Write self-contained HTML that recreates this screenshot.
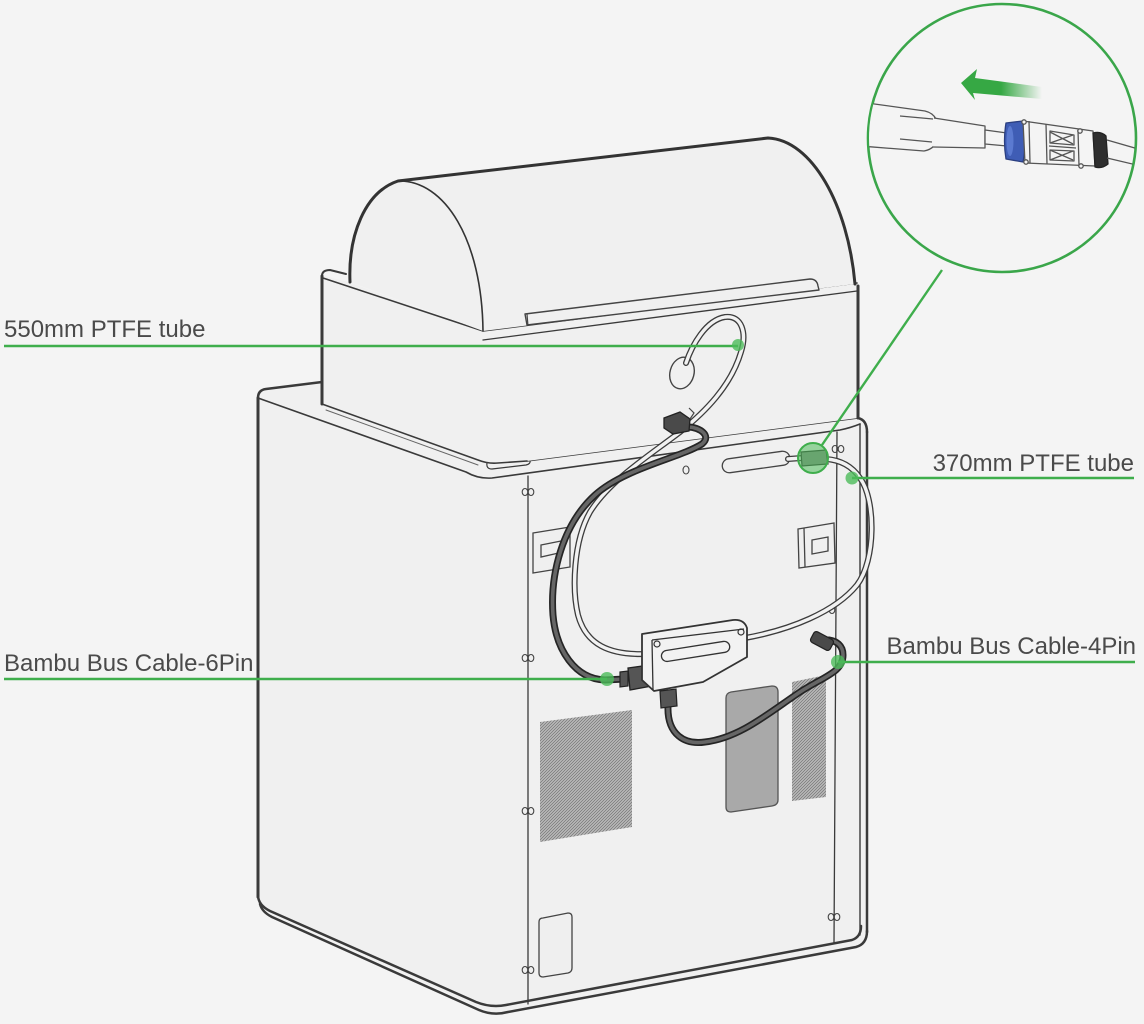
<!DOCTYPE html>
<html><head><meta charset="utf-8"><style>
html,body{margin:0;padding:0;background:#f4f4f4;}
svg{display:block;}
text{font-family:"Liberation Sans",Arial,sans-serif;font-size:24px;fill:#4a4a4a;}
</style></head><body>
<svg width="1144" height="1024" viewBox="0 0 1144 1024" xmlns="http://www.w3.org/2000/svg">
<defs>
<pattern id="mesh" width="3" height="3" patternUnits="userSpaceOnUse">
<rect width="3" height="3" fill="#c4c4c4"/>
<path d="M-1,1 L1,-1 M0,3 L3,0 M2,4 L4,2" stroke="#808080" stroke-width="1"/>
</pattern>
<linearGradient id="arr" x1="960" y1="0" x2="1042" y2="0" gradientUnits="userSpaceOnUse">
<stop offset="0" stop-color="#36a844" stop-opacity="1"/>
<stop offset="0.5" stop-color="#36a844" stop-opacity="1"/>
<stop offset="1" stop-color="#36a844" stop-opacity="0"/>
</linearGradient>
<clipPath id="mag"><circle cx="1002" cy="138" r="133"/></clipPath>
</defs>
<rect width="1144" height="1024" fill="#f4f4f4"/>

<!-- ===== BASE ===== -->
<path d="M258,398 Q258,390 266,389 L322,381 L858,380 L858,418 Q867,420 867,432 L867,932 Q867,944 855,947 L505,1012 Q492,1014 480,1008 L270,912 Q258,905 258,895 Z" fill="#f0f0f0"/>
<g fill="none" stroke="#3a3a3a" stroke-linecap="round" stroke-linejoin="round">
<path d="M258,398 L258,897" stroke-width="3"/>
<path d="M258,398 Q258,390 266,389 L322,382" stroke-width="2.5"/>
<path d="M258,895 Q258,905 270,911 L476,1002 Q491,1008 506,1005 L852,940 Q861,937 861,926" stroke-width="2.5"/>
<path d="M260,904 Q262,912 272,917 L479,1010 Q493,1016 508,1012 L856,947 Q867,944 867,931" stroke-width="2.5"/>
<path d="M867,432 L867,932" stroke-width="2.5"/>
<path d="M860,424 L860,935" stroke-width="1.4"/>
<path d="M858,418 Q867,420 867,432" stroke-width="2.5"/>
<path d="M528,476 L528,1004" stroke-width="1.3"/>
<path d="M837,432 L834,943" stroke-width="1.3"/>
<!-- rim -->
<path d="M258,398 L466,472 Q478,479 492,478 L840,430 Q850,428 860,424" stroke-width="1.6"/>
<path d="M527,461 L858,418" stroke-width="1.6"/>
<path d="M487,463 Q486,469 492,469 L526,465 Q531,464 530,460" stroke-width="1.2"/>
</g>
<!-- screws -->
<g fill="none" stroke="#444" stroke-width="1.1">
<ellipse cx="525" cy="492" rx="2.8" ry="3.5"/><ellipse cx="531" cy="492" rx="2.8" ry="3.5"/>
<ellipse cx="525" cy="658" rx="2.8" ry="3.5"/><ellipse cx="531" cy="658" rx="2.8" ry="3.5"/>
<ellipse cx="525" cy="811" rx="2.8" ry="3.5"/><ellipse cx="531" cy="811" rx="2.8" ry="3.5"/>
<ellipse cx="525" cy="970" rx="2.8" ry="3.5"/><ellipse cx="531" cy="970" rx="2.8" ry="3.5"/>
<ellipse cx="835" cy="449" rx="2.8" ry="3.5"/><ellipse cx="841" cy="449" rx="2.8" ry="3.5"/>
<ellipse cx="831" cy="917" rx="2.8" ry="3.5"/><ellipse cx="837" cy="917" rx="2.8" ry="3.5"/>
<ellipse cx="832" cy="610" rx="2.8" ry="3.5"/>
<ellipse cx="686" cy="470" rx="3" ry="4"/>
</g>
<!-- latches -->
<g fill="#efefef" stroke="#444" stroke-width="1.3">
<path d="M533,533 L570,527 L570,567 L533,573 Z"/>
<path d="M541,545 L561,541 Q563,541 563,543 L563,552 L541,557 Z"/>
<path d="M798,529 L834,523 L835,563 L799,568 Z"/>
<path d="M804,528 L805,567" fill="none"/>
<path d="M812,540 L828,537 L828,551 L812,554 Z"/>
<!-- top slot -->
<rect x="722" y="455" width="68" height="14" rx="7" transform="rotate(-8 756 462)"/>
<!-- bottom small door -->
<path d="M543,918 L568,913 Q572,913 572,917 L572,968 Q572,972 568,973 L543,977 Q539,977 539,973 L539,922 Q539,918 543,918 Z"/>
</g>
<!-- vents -->
<path d="M540,722 L632,710 L632,827 L540,842 Z" fill="url(#mesh)"/>
<path d="M792,682 L826,675 L826,797 L792,801 Z" fill="url(#mesh)"/>
<path d="M731,692 L772,686 Q778,686 778,692 L778,800 Q778,805 772,806 L731,812 Q726,812 726,807 L726,698 Q726,693 731,692 Z" fill="#a9a9a9" stroke="#555" stroke-width="1.3"/>

<!-- ===== AMS ===== -->
<path d="M321,275 L349,282 L483,332 L857,284 L858,288 L858,418 L527,461 L497,463 Q487,464 478,459 L321,403 Z" fill="#f0f0f0"/>
<g fill="none" stroke="#3a3a3a" stroke-linecap="round" stroke-linejoin="round">
<path d="M322,276 L322,404" stroke-width="3"/>
<path d="M322,276 Q322,270 330,270 L346,274" stroke-width="2"/>
<path d="M322,404 L478,460 Q488,464 498,463 L527,461" stroke-width="1.6"/>
<path d="M326,410 L478,465" stroke-width="1" stroke="#666"/>
<path d="M858,286 L858,418" stroke-width="3"/>
<path d="M323,278 L483,331 L857,283" stroke-width="1.6"/>
<path d="M483,340 L857,291" stroke-width="1.3"/>
</g>
<!-- dome -->
<path d="M350,282 C348,235 365,192 398,181 L768,138 C812,140 848,205 855,284 L483,331 Z" fill="#f0f0f0"/>
<g fill="none" stroke="#333" stroke-linecap="round" stroke-linejoin="round">
<path d="M350,282 C348,235 365,192 398,181 L768,138 C812,140 848,205 855,284" stroke-width="3"/>
<path d="M398,181 C445,180 482,240 483,331" stroke-width="1.6"/>
</g>
<!-- handle bar -->
<path d="M525,314 L810,279 Q817,279 818,286 L819,290 L527,325 Z" fill="#f0f0f0" stroke="#444" stroke-width="1.4" stroke-linejoin="round"/>
<path d="M527,314 L528,326" stroke="#444" stroke-width="1.2"/>
<!-- port -->
<ellipse cx="682" cy="373" rx="12" ry="16" transform="rotate(15 682 373)" fill="none" stroke="#444" stroke-width="1.4"/>

<!-- ===== TUBES & CABLES ===== -->
<g fill="none" stroke-linecap="round" stroke-linejoin="round">
<!-- light tube AMS → hub (550mm) -->
<path d="M686,363 C692,345 706,320 725,317 C742,315 747,333 741,352 C731,386 705,412 680,432 C650,455 610,480 590,512 C573,542 572,590 578,615 C586,645 610,655 645,654" stroke="#3c3c3c" stroke-width="6"/>
<path d="M686,363 C692,345 706,320 725,317 C742,315 747,333 741,352 C731,386 705,412 680,432 C650,455 610,480 590,512 C573,542 572,590 578,615 C586,645 610,655 645,654" stroke="#f2f2f2" stroke-width="3.4"/>
<!-- dark 6pin cable -->
<path d="M688,427 C700,427 712,436 702,444 C680,458 625,468 595,495 C562,525 550,575 553,615 C556,650 575,679 605,680 L625,679" stroke="#252525" stroke-width="7"/>
<path d="M688,427 C700,427 712,436 702,444 C680,458 625,468 595,495 C562,525 550,575 553,615 C556,650 575,679 605,680 L625,679" stroke="#666" stroke-width="3.6"/>
<!-- 370mm tube hub → coupler -->
<path d="M745,638 C790,630 835,612 857,585 C876,560 876,500 860,478 C852,466 840,460 826,459" stroke="#3c3c3c" stroke-width="6"/>
<path d="M745,638 C790,630 835,612 857,585 C876,560 876,500 860,478 C852,466 840,460 826,459" stroke="#f2f2f2" stroke-width="3.4"/>
<path d="M788,459 L802,458" stroke="#3c3c3c" stroke-width="6"/>
<path d="M788,459 L802,458" stroke="#f2f2f2" stroke-width="3.4"/>
<!-- 4pin cable -->
<path d="M668,706 C667,735 685,745 705,742 C740,738 770,712 800,692 C825,676 843,672 843,655 C843,645 836,641 829,640" stroke="#252525" stroke-width="7"/>
<path d="M668,706 C667,735 685,745 705,742 C740,738 770,712 800,692 C825,676 843,672 843,655 C843,645 836,641 829,640" stroke="#666" stroke-width="3.6"/>
</g>
<!-- AMS connector -->
<path d="M664,418 L680,412 L690,419 L689,431 L673,434 L664,428 Z" fill="#4a4a4a" stroke="#222" stroke-width="1.3"/>
<path d="M689,408 L694,413 L690,419" fill="none" stroke="#444" stroke-width="1.2"/>
<!-- coupler -->
<path d="M801,452 L826,450 L828,464 L802,466 Z" fill="#8a8a8a" stroke="#333" stroke-width="1.2"/>
<!-- 6pin connector -->
<path d="M620,672 L628,671 L628,686 L620,687 Z" fill="#555" stroke="#222" stroke-width="1.2"/>
<path d="M628,668 L650,665 L652,686 L630,690 Z" fill="#555" stroke="#222" stroke-width="1.3"/>
<!-- hub -->
<path d="M642,634 L733,620 Q744,619 747,628 L747,657 L703,682 L654,691 L642,680 Z" fill="#f2f2f2" stroke="#333" stroke-width="1.8" stroke-linejoin="round"/>
<path d="M652,640 L744,629" fill="none" stroke="#333" stroke-width="1.3"/>
<path d="M652,640 L653,690" fill="none" stroke="#333" stroke-width="1.3"/>
<rect x="661" y="646" width="69" height="11" rx="5.5" transform="rotate(-9 695 651)" fill="none" stroke="#333" stroke-width="1.3"/>
<circle cx="657" cy="644" r="3" fill="none" stroke="#333" stroke-width="1.2"/>
<circle cx="741" cy="632" r="3" fill="none" stroke="#333" stroke-width="1.2"/>
<!-- hub bottom connector -->
<path d="M660,691 L676,689 L677,706 L661,708 Z" fill="#555" stroke="#222" stroke-width="1.2"/>
<!-- 4pin plug -->
<rect x="811" y="635" width="22" height="12" rx="3" transform="rotate(28 822 641)" fill="#4a4a4a" stroke="#222" stroke-width="1.2"/>

<!-- ===== GREEN CALLOUTS ===== -->
<g stroke="#3fae4c" stroke-width="2.4" fill="none">
<path d="M4,346 L738,346"/>
<path d="M852,478 L1134,478"/>
<path d="M4,679 L607,679"/>
<path d="M838,662 L1135,662"/>
<path d="M942,270 L822,445"/>
</g>
<g fill="#4cbb5a" fill-opacity="0.8">
<circle cx="738" cy="345" r="6"/>
<circle cx="852" cy="478" r="6.5"/>
<circle cx="607" cy="679" r="7"/>
<circle cx="838" cy="662" r="7"/>
</g>
<circle cx="813" cy="458" r="15" fill="#4cbb5a" fill-opacity="0.55" stroke="#3fae4c" stroke-width="2"/>

<!-- magnified circle -->
<circle cx="1002" cy="138" r="134" fill="#f4f4f4" stroke="#3aa64a" stroke-width="2.6"/>
<g clip-path="url(#mag)" stroke="#555" stroke-width="1.3" fill="#f4f4f4" stroke-linejoin="round">
<path d="M860,102 L925,111 Q933,113 936,119 L934,146 Q930,150 924,151 L860,146 Z"/>
<path d="M900,116 L933,119 M900,139 L932,142" fill="none"/>
<path d="M934,118 L985,126 L985,148 L933,147" />
<path d="M985,130 L1007,133 L1007,146 L985,144 Z"/>
<path d="M1006,123 Q1003,141 1006,159 L1023,162 Q1027,142 1023,121 Z" fill="#3f5db5" stroke="#2b3f80"/>
<ellipse cx="1010" cy="141" rx="3.5" ry="15" fill="#5b7ad0" stroke="none"/>
<path d="M1023,121 L1093,131 L1095,166 L1025,163 Z"/>
<path d="M1029,121 L1030,163 M1046,124 L1047,164 M1078,130 L1079,166 M1049,146 L1076,148" fill="none"/>
<path d="M1050,131 L1074,135 L1074,145 L1050,143 Z"/>
<path d="M1050,150 L1074,151 L1074,161 L1050,160 Z"/>
<path d="M1050,132 L1073,144 M1073,135 L1050,143 M1050,150 L1073,160 M1073,151 L1050,160" fill="none"/>
<circle cx="1024" cy="122" r="2.2"/><circle cx="1026" cy="162" r="2.2"/><circle cx="1080" cy="131" r="2.2"/><circle cx="1081" cy="166" r="2.2"/>
<path d="M1093,133 Q1101,131 1106,136 L1108,164 Q1102,169 1095,167 Z" fill="#2e2e2e" stroke="#222"/>
<path d="M1107,140 L1145,151 M1107,158 L1145,167" fill="none"/>
</g>
<path d="M961,83 L977,69 L975,78 L1042,87 L1042,99 L973,93 L975,100 Z" fill="url(#arr)"/>

<!-- ===== LABELS ===== -->
<text x="4" y="337">550mm PTFE tube</text>
<text x="1134" y="471" text-anchor="end">370mm PTFE tube</text>
<text x="4" y="671">Bambu Bus Cable-6Pin</text>
<text x="1136" y="654" text-anchor="end">Bambu Bus Cable-4Pin</text>
</svg>
</body></html>
